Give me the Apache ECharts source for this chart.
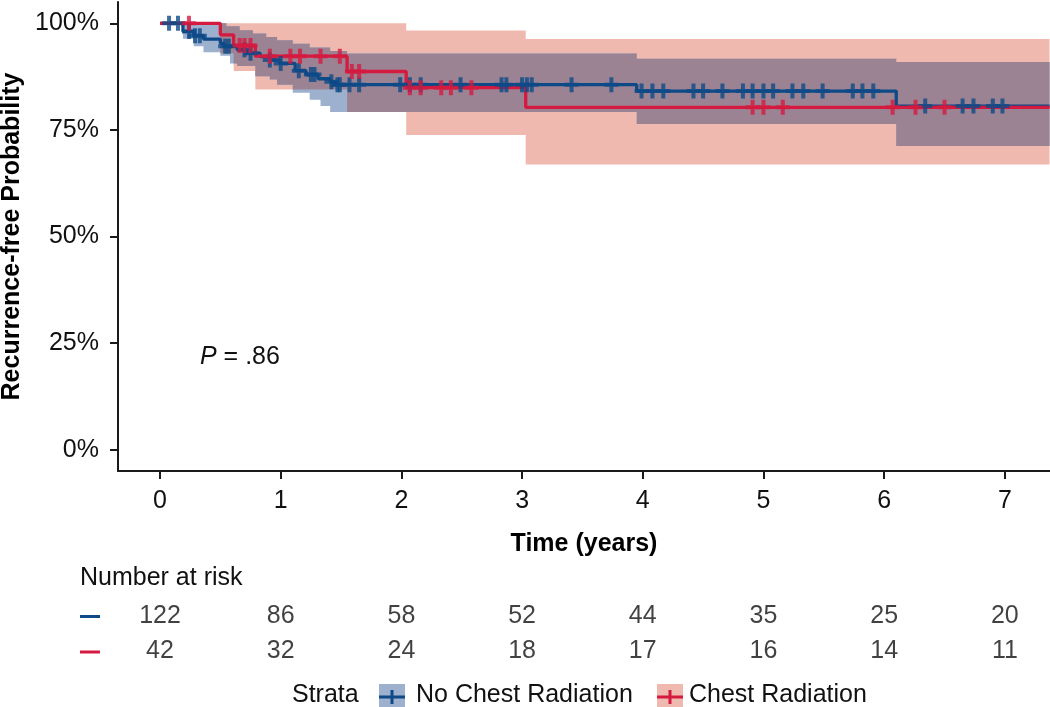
<!DOCTYPE html>
<html><head><meta charset="utf-8">
<script src="https://cdn.jsdelivr.net/npm/echarts@6/dist/echarts.min.js"></script>
<style>html,body{margin:0;padding:0;background:#fff}#c{width:1050px;height:707px}</style>
</head><body><div id="c"></div>
<script>
// ---------------- data ----------------
const END_TIME = 7.37;
const xTicks = [0, 1, 2, 3, 4, 5, 6, 7];
const yTicks = [0, 25, 50, 75, 100];

// Kaplan-Meier step curves (time in years, probability in %)
const blueTimes = [0, 0.19, 0.28, 0.36, 0.50, 0.53, 0.64, 0.72, 0.83, 0.91, 0.99, 1.12, 1.21, 1.31, 1.41, 1.45, 3.95, 6.10];
const blueSurv  = [100, 98.1, 97.1, 96.3, 95.3, 94.6, 93.8, 93.0, 92.2, 91.4, 90.6, 88.9, 88.0, 87.0, 86.3, 85.6, 84.1, 80.6];
const redTimes  = [0, 0.50, 0.61, 0.79, 1.55, 2.04, 3.03];
const redSurv   = [100, 97.3, 94.8, 92.3, 88.7, 84.9, 80.3];

// confidence bands
const blueBandTimes = [0.19, 0.28, 0.36, 0.50, 0.55, 0.58, 0.64, 0.66, 0.77, 0.79, 0.88, 0.91, 0.97, 1.10, 1.24, 1.33, 1.41, 1.55, 3.95, 6.10];
const blueUpper     = [100, 100, 100, 100, 99.3, 99.3, 99.3, 98.4, 97.6, 97.6, 96.8, 96.8, 96.0, 95.2, 94.3, 94.3, 93.5, 92.9, 91.7, 90.9];
const blueLower     = [96.4, 94.6, 93.2, 92.4, 92.4, 90.6, 90.0, 90.0, 90.0, 87.6, 87.6, 86.8, 85.6, 83.7, 82.1, 80.6, 79.2, 79.2, 76.4, 71.2];
const redBandTimes  = [0.50, 0.61, 0.79, 1.55, 2.04, 3.03];
const redUpper      = [100, 100, 100, 100, 98.3, 96.3];
const redLower      = [93.0, 88.8, 84.5, 79.2, 73.8, 66.9];

// censoring times
const blueCensor = [0.075, 0.149, 0.24, 0.29, 0.33, 0.54, 0.57, 0.70, 0.75, 0.91, 1.00, 1.15, 1.25, 1.28, 1.42, 1.47, 1.49, 1.57, 1.65, 1.99, 2.07, 2.16, 2.49, 2.83, 2.87, 3.00, 3.04, 3.08, 3.41, 3.74, 3.99, 4.08, 4.17, 4.42, 4.50, 4.66, 4.83, 4.91, 5.00, 5.08, 5.24, 5.33, 5.49, 5.74, 5.82, 5.91, 6.34, 6.65, 6.74, 6.90, 6.98];
const redCensor  = [0.24, 0.66, 0.70, 0.75, 0.91, 1.08, 1.16, 1.33, 1.49, 1.59, 1.65, 2.07, 2.16, 2.33, 2.41, 2.58, 4.91, 5.00, 5.16, 6.07, 6.26, 6.50];

// number at risk
const riskTimes = [0, 1, 2, 3, 4, 5, 6, 7];
const riskBlue  = [122, 86, 58, 52, 44, 35, 25, 20];
const riskRed   = [42, 32, 24, 18, 17, 16, 14, 11];

const pText = '.86';
const strataNames = ['No Chest Radiation', 'Chest Radiation'];

// ---------------- styles ----------------
const BLUE = '#0E4A87', RED = '#D51A40';
const BLUE_FILL = '#9DB0CE', RED_FILL = '#EFB9AF', MIX_FILL = '#9C8393';
const FONT = '"Liberation Sans", Arial, Helvetica, sans-serif';
const AX = '#1a1a1a';

function stepAt(times, vals, t) {
  let v = null;
  for (let i = 0; i < times.length; i++) if (times[i] <= t + 1e-9) v = vals[i];
  return v;
}
function lineData(times, vals) {
  const d = times.map((t, i) => [t, vals[i]]);
  d.push([END_TIME, vals[vals.length - 1]]);
  return d;
}
function bandPoly(times, lo, hi) {
  const T = times.concat([END_TIME]);
  const up = [], dn = [];
  for (let i = 0; i < times.length; i++) {
    up.push([T[i], hi[i]], [T[i + 1], hi[i]]);
    dn.push([T[i], lo[i]], [T[i + 1], lo[i]]);
  }
  return up.concat(dn.reverse());
}
// overlap band
const ovTimes = Array.from(new Set(blueBandTimes.concat(redBandTimes)))
  .filter(t => t >= Math.max(blueBandTimes[0], redBandTimes[0])).sort((a, b) => a - b);
const ovLo = [], ovHi = [];
ovTimes.forEach(t => {
  const lo = Math.max(stepAt(blueBandTimes, blueLower, t), stepAt(redBandTimes, redLower, t));
  let hi = Math.min(stepAt(blueBandTimes, blueUpper, t), stepAt(redBandTimes, redUpper, t));
  if (hi < lo) hi = lo;
  ovLo.push(lo); ovHi.push(hi);
});

function bandSeries(poly, fill, z) {
  return {
    type: 'custom', xAxisIndex: 0, yAxisIndex: 0, silent: true, z: z,
    data: [[0, 50]],
    renderItem: (params, api) => ({
      type: 'polygon',
      shape: { points: poly.map(p => api.coord(p)) },
      style: { fill: fill }
    })
  };
}
const PLUS = 'path://M5,0h4v5.5h5v4h-5v5.5h-4v-5.5h-5v-4h5z';

const chart = echarts.init(document.getElementById('c'), null, { renderer: 'canvas' });
const option = {
  animation: false,
  backgroundColor: '#fff',
  textStyle: { fontFamily: FONT },
  grid: [
    { left: 118, right: 0, top: 2, bottom: 236, containLabel: false, outerBoundsMode: 'none' },
    { left: 118, right: 0, top: 616, height: 35, containLabel: false, outerBoundsMode: 'none' }
  ],
  xAxis: [
    {
      type: 'value', gridIndex: 0, min: -0.348, max: 7.374,
      name: 'Time (years)', nameLocation: 'middle', nameGap: 61,
      nameTextStyle: { fontSize: 25, fontWeight: 'bold', color: '#000', fontFamily: FONT },
      axisLine: { show: true, onZero: false, lineStyle: { color: AX, width: 2 } },
      axisTick: { show: true, length: 8, lineStyle: { color: AX, width: 2 }, customValues: xTicks },
      axisLabel: { fontSize: 25, color: '#111', margin: 18, fontFamily: FONT, customValues: xTicks },
      splitLine: { show: false }
    },
    {
      type: 'value', gridIndex: 1, min: -0.348, max: 7.374, show: false
    }
  ],
  yAxis: [
    {
      type: 'value', gridIndex: 0, min: -5, max: 105,
      name: 'Recurrence-free Probability', nameLocation: 'middle', nameGap: 91, nameRotate: 90,
      nameTextStyle: { fontSize: 25, fontWeight: 'bold', color: '#000', fontFamily: FONT },
      axisLine: { show: true, onZero: false, lineStyle: { color: AX, width: 2 } },
      axisTick: { show: true, length: 8, lineStyle: { color: AX, width: 2 }, customValues: yTicks },
      axisLabel: { fontSize: 25, color: '#111', margin: 19, fontFamily: FONT, customValues: yTicks,
        formatter: v => v + '%' },
      splitLine: { show: false }
    },
    { type: 'value', gridIndex: 1, min: 0, max: 1, show: false }
  ],
  series: [
    bandSeries(bandPoly(redBandTimes, redLower, redUpper), RED_FILL, 1),
    bandSeries(bandPoly(blueBandTimes, blueLower, blueUpper), BLUE_FILL, 2),
    bandSeries(bandPoly(ovTimes, ovLo, ovHi), MIX_FILL, 3),
    {
      type: 'line', name: strataNames[0], step: 'end', showSymbol: false, symbol: 'none', z: 4,
      data: lineData(blueTimes, blueSurv), lineStyle: { color: BLUE, width: 3.3 }
    },
    {
      type: 'line', name: strataNames[1], step: 'end', showSymbol: false, symbol: 'none', z: 5,
      data: lineData(redTimes, redSurv), lineStyle: { color: RED, width: 3.3 }
    },
    {
      type: 'scatter', z: 6, symbol: PLUS, symbolSize: [14, 15], silent: true,
      itemStyle: { color: BLUE },
      data: blueCensor.map(t => [t, stepAt(blueTimes, blueSurv, t)])
    },
    {
      type: 'scatter', z: 7, symbol: PLUS, symbolSize: [14, 15], silent: true,
      itemStyle: { color: RED },
      data: redCensor.map(t => [t, stepAt(redTimes, redSurv, t)])
    },
    {
      type: 'scatter', xAxisIndex: 1, yAxisIndex: 1, symbolSize: 0, silent: true,
      data: riskTimes.map((t, i) => [t, 1, riskBlue[i]]),
      label: { show: true, position: 'inside', formatter: p => String(p.value[2]),
        fontSize: 25, color: '#111', fontFamily: FONT }
    },
    {
      type: 'scatter', xAxisIndex: 1, yAxisIndex: 1, symbolSize: 0, silent: true,
      data: riskTimes.map((t, i) => [t, 0, riskRed[i]]),
      label: { show: true, position: 'inside', formatter: p => String(p.value[2]),
        fontSize: 25, color: '#111', fontFamily: FONT }
    }
  ],
  graphic: [
    { type: 'text', left: 200, top: 345, style: {
        text: '{i|P} = ' + pText, fill: '#111', font: '25px ' + FONT,
        rich: { i: { fontStyle: 'italic', fontSize: 25, fontFamily: FONT, fill: '#111' } } } },
    { type: 'text', left: 80, top: 566, style: { text: 'Number at risk', fill: '#111', font: '25px ' + FONT } },
    { type: 'rect', shape: { x: 80, y: 615, width: 20, height: 3 }, style: { fill: BLUE } },
    { type: 'rect', shape: { x: 80, y: 650.5, width: 20, height: 3 }, style: { fill: RED } },
    { type: 'text', left: 292, top: 683, style: { text: 'Strata', fill: '#111', font: '25px ' + FONT } },
    { type: 'rect', shape: { x: 379, y: 684, width: 26, height: 26 }, style: { fill: BLUE_FILL } },
    { type: 'rect', shape: { x: 379, y: 695.5, width: 26, height: 3 }, style: { fill: BLUE } },
    { type: 'rect', shape: { x: 390.5, y: 690, width: 3, height: 14 }, style: { fill: BLUE } },
    { type: 'text', left: 416, top: 683, style: { text: strataNames[0], fill: '#111', font: '25px ' + FONT } },
    { type: 'rect', shape: { x: 657, y: 684, width: 26, height: 26 }, style: { fill: RED_FILL } },
    { type: 'rect', shape: { x: 657, y: 695.5, width: 26, height: 3 }, style: { fill: RED } },
    { type: 'rect', shape: { x: 668.5, y: 690, width: 3, height: 14 }, style: { fill: RED } },
    { type: 'text', left: 689, top: 683, style: { text: strataNames[1], fill: '#111', font: '25px ' + FONT } }
  ]
};
chart.setOption(option);
</script>
</body></html>
